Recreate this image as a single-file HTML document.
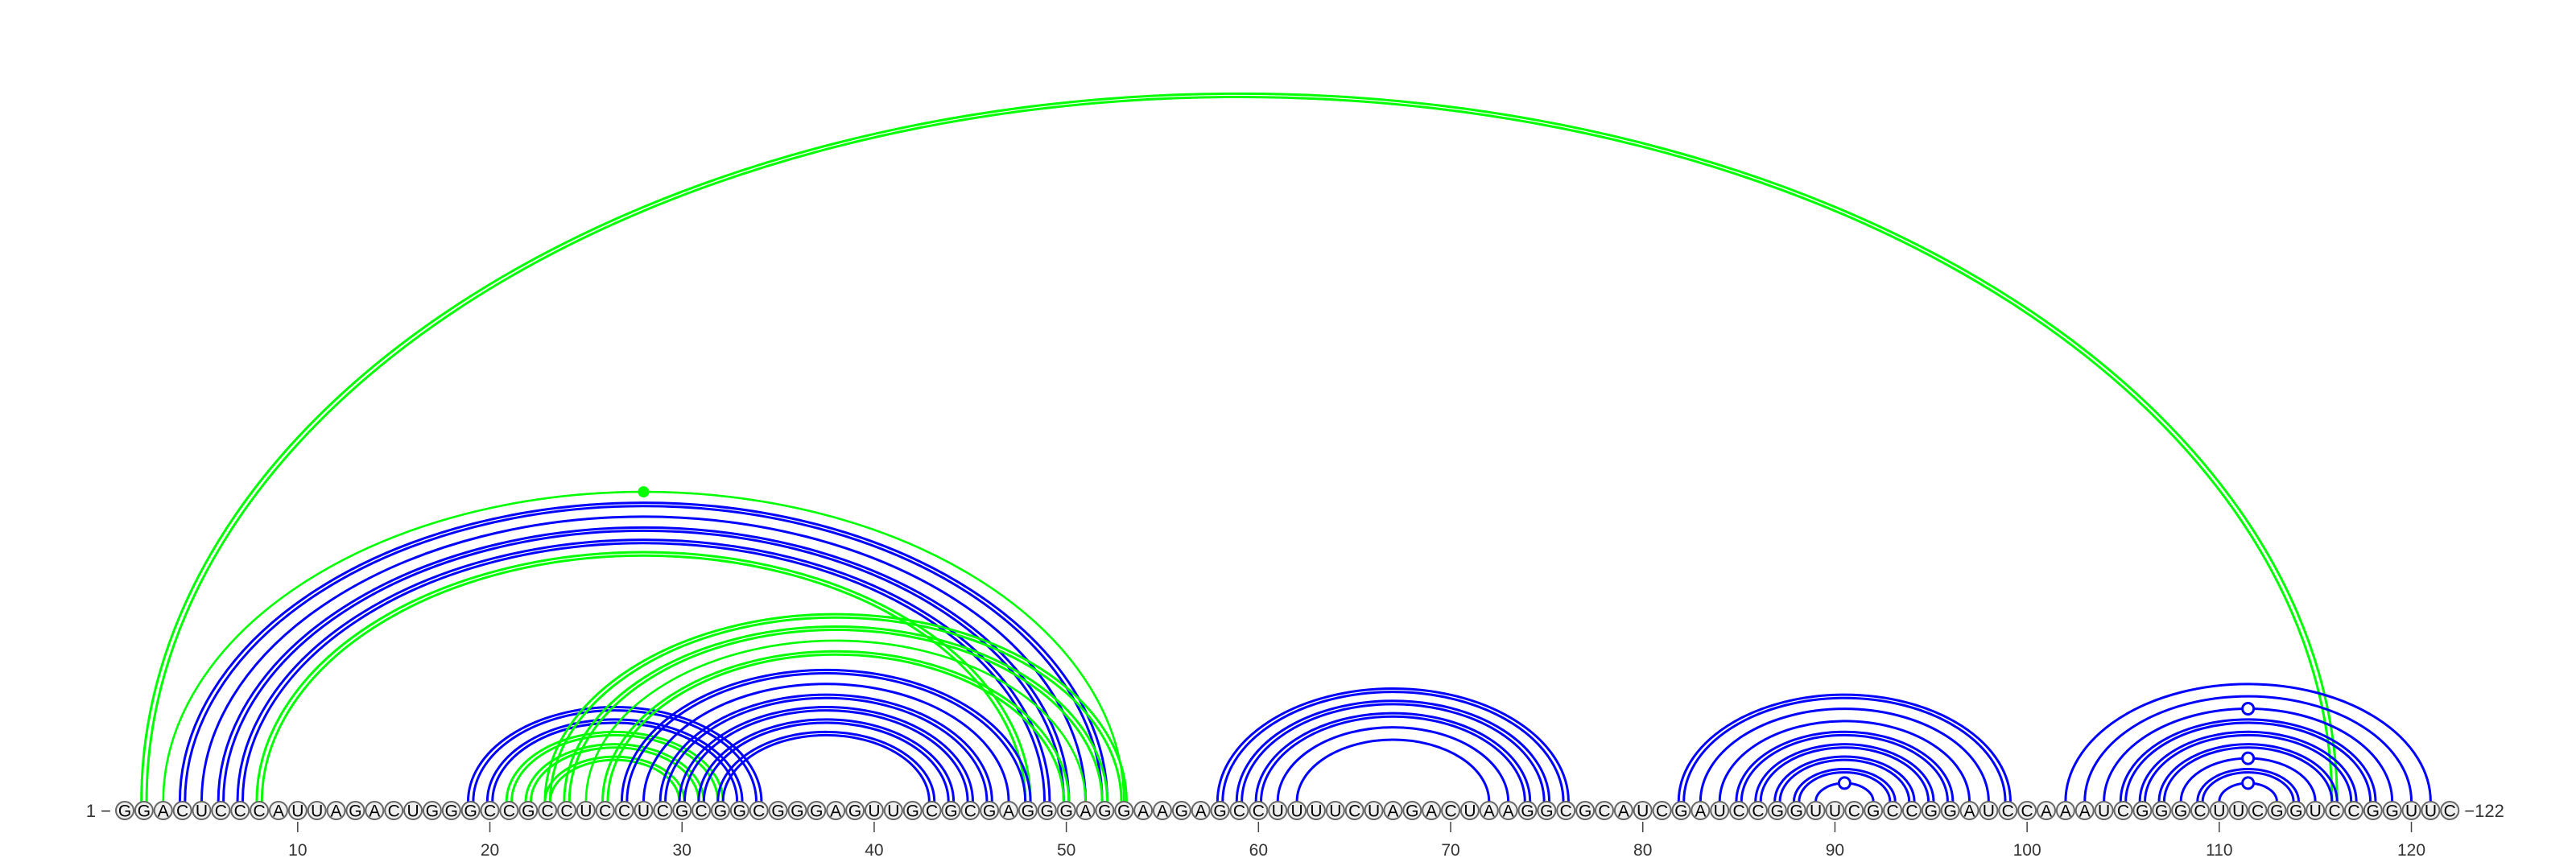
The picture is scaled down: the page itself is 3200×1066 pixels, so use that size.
<!DOCTYPE html>
<html><head><meta charset="utf-8"><style>
html,body{margin:0;padding:0;background:#fff}
svg{display:block}
</style></head><body>
<svg id="chart" width="3200" height="1066" viewBox="0 0 3200 1066" xmlns="http://www.w3.org/2000/svg">
<g id="arcs"></g>
<g id="bases"></g>
<g id="ticks"></g>
</svg>
<script>
const sequence = "GGACUCCCAUUAGACUGGGCCGCCUCCUCGCGGCGGGAGUUGCGCGAGGGAGGAAGAGCCUUUUCUAGACUAAGGCGCAUCGAUCCGGUUCGCCGGAUCCAAAUCGGGCUUCGGUCCGGUUC";
const arcStart = [2,3,4,5,6,7,8, 19,20,21,22,23, 23,24,25,26, 27,28,29,30,31,32, 58,59,60,61,62, 82,83,84,85,86,87,88,89, 102,103,104,105,106,107,108,109,110];
const arcEnd   = [116,53,52,51,50,49,48, 34,33,32,31,30, 53,52,51,50, 48,47,46,45,44,43, 76,75,74,73,72, 99,98,97,96,95,94,93,92, 121,120,119,118,117,116,115,114,113];
const arcColor = ["g","g","b","b","b","b","g", "b","b","g","g","g", "g","g","g","g", "b","b","b","b","b","b", "b","b","b","b","b", "b","b","b","b","b","b","b","b", "b","b","b","b","b","b","b","b","b"];
const arcDouble= [1,0,1,0,1,1,1, 1,1,1,1,1, 1,1,0,1, 1,0,1,1,1,1, 1,1,1,0,0, 1,0,0,1,1,1,1,0, 0,0,0,1,1,1,0,1,0];
const arcDot   = ["", "fill","","","","","", "","","","","", "","","","", "","","","","","", "","","","","", "","","","","","","","open", "","","open","","","","open","","open"];
const tickValues = [10,20,30,40,50,60,70,80,90,100,110,120];

const NS = "http://www.w3.org/2000/svg";
const X0 = 155, STEP = 23.87, BASE_Y = 996, CY = 1007, R = 12, RATIO = 0.645;
function xPos(i){ return X0 + (i-1)*STEP; }
const COLORS = {g:"#00ff00", b:"#0000ff"};
function mk(tag, attrs){ const e = document.createElementNS(NS, tag); for (const k in attrs) e.setAttribute(k, attrs[k]); return e; }

const arcsG = document.getElementById('arcs');
function arcPath(cx, rx){ const ry = rx*RATIO; return "M"+(cx-rx)+","+BASE_Y+" A"+rx+","+ry+" 0 0 1 "+(cx+rx)+","+BASE_Y; }
for (let k=0;k<arcStart.length;k++){
  const a = xPos(arcStart[k]), b = xPos(arcEnd[k]);
  const cx = (a+b)/2, rx = (b-a)/2;
  const col = COLORS[arcColor[k]];
  const g = mk('g', {});
  
  
  const offs = arcDouble[k] ? [-3.2, 3.2] : [0];
  const sw = arcColor[k]==="g" && !arcDouble[k] ? 2.6 : 3;
  for (const o of offs){
    const p = mk('path', {d: arcPath(cx, rx+o), fill:"none", stroke: col, "stroke-width": sw});
    g.appendChild(p);
  }
  if (arcDot[k]){
    const py = BASE_Y - rx*RATIO;
    const c = arcDot[k]==="fill" ? mk('circle',{cx:cx, cy:py, r:7, fill:col}) : mk('circle',{cx:cx, cy:py, r:7, fill:"#fff", stroke:col, "stroke-width":3});
    
    
    g.appendChild(c);
  }
  arcsG.appendChild(g);
}

const basesG = document.getElementById('bases');
for (let i=1;i<=sequence.length;i++){
  const g = mk('g', {});
  
  
  g.appendChild(mk('circle', {cx:xPos(i), cy:CY, r:R-1, fill:"#f0f0f0", stroke:"#666", "stroke-width":2}));
  const t = mk('text', {x:xPos(i), y:CY+7.5, "text-anchor":"middle", "font-family":"Liberation Sans, sans-serif", "font-size":21, fill:"#000"});
  t.textContent = sequence[i-1];
  g.appendChild(t);
  basesG.appendChild(g);
}

const ticksG = document.getElementById('ticks');
const l1 = mk('text', {x:138, y:CY+8, "text-anchor":"end", "font-family":"Liberation Sans, sans-serif", "font-size":22, fill:"#333"});
l1.textContent = "1 \u2212";


ticksG.appendChild(l1);
const l2 = mk('text', {x:xPos(sequence.length)+R+6, y:CY+8, "text-anchor":"start", "font-family":"Liberation Sans, sans-serif", "font-size":22, fill:"#333"});
l2.textContent = "\u2212" + sequence.length;


ticksG.appendChild(l2);
for (const v of tickValues){
  const x = xPos(v);
  const ln = mk('line', {x1:x, x2:x, y1:1021, y2:1034, stroke:"#444", "stroke-width":1.5});
  
  
  ticksG.appendChild(ln);
  const t = mk('text', {x:x, y:1063, "text-anchor":"middle", "font-family":"Liberation Sans, sans-serif", "font-size":21, fill:"#333"});
  t.textContent = v;
  
  
  ticksG.appendChild(t);
}
</script>
</body></html>
